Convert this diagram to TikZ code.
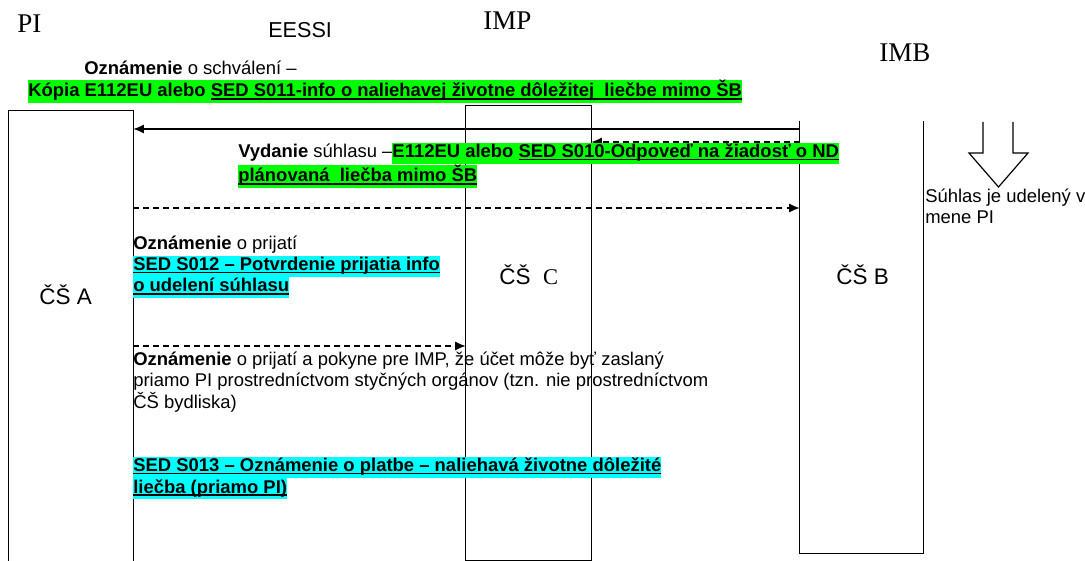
\documentclass[tikz,border=0pt]{standalone}
\usepackage{fontspec}
\setmainfont{Liberation Sans}
\newfontfamily\timesfont{Liberation Serif}
\usetikzlibrary{positioning,fit,arrows.meta}
\definecolor{hlgreen}{RGB}{0,255,0}
\definecolor{hlcyan}{RGB}{0,255,255}
\newcommand\hlg[1]{{\fboxsep=0pt\colorbox{hlgreen}{\strut#1}}}
\newcommand\hlc[1]{{\fboxsep=0pt\colorbox{hlcyan}{\strut#1}}}
\newcommand\ul[1]{\setbox0\hbox{#1}\rlap{\rule[-1.7pt]{\wd0}{0.9pt}}\box0}
\tikzset{
    lanebox/.style={inner sep=0pt, draw=none},
    lane/.style={line width=0.9pt},
    msg/.style={-{Latex[length=7pt,width=6pt]}, line width=0.8pt},
    reply/.style={msg, dash pattern=on 4pt off 2.7pt},
    % base of a multi-line text is its last line
    txt/.style={anchor=base west, inner sep=0pt, align=left, font=\fontsize{12.3}{14.3}\selectfont},
    lanelabel/.style={anchor=base west, inner sep=0pt, font=\fontsize{15}{17}\selectfont},
    party/.style={anchor=base west, inner sep=0pt, font=\timesfont\fontsize{18}{20}\selectfont},
}
\begin{document}
\begin{tikzpicture}
        [x=0.6667pt, y=-0.6667pt]
        \useasboundingbox (0,0) rectangle (1085,561);

        % Parties on top
        \node[party] (pi) at (17,33) {PI};
        \node[anchor=base west, inner sep=0pt, font=\fontsize{14.4}{16}\selectfont] (eessi) at (268,38) {EESSI};
        \node[party] (imp) at (483,30) {IMP};
        \node[party] (imb) at (879,62) {IMB};

        % Lanes of the states
        \node[lanebox, fit={(9,111) (133,561)}] (csA) {};
        \node[lanebox, fit={(466,106) (591,560)}] (csC) {};
        \node[lanebox, fit={(800,121) (923,553)}] (csB) {};
        \draw[lane] (csA.south west) -- (csA.north west) -- (csA.north east) -- (csA.south east);
        \draw[lane] (csC.north west) rectangle (csC.south east);
        \draw[lane] (csB.north west) -- (csB.south west) -- (csB.south east) -- (csB.north east);

        \node[lanelabel] (labA) at (39,305) {ČŠ A};
        \node[lanelabel] (labC) at (499,285) {ČŠ\ \ {\timesfont C}};
        \node[lanelabel] (labB) at (836,285) {ČŠ B};

        % Message levels
        \coordinate (m1) at (0,129);
        \coordinate (m2) at (0,142);
        \coordinate (m3) at (0,208);
        \coordinate (m4) at (0,346);

        % Arrows between the states
        \draw[msg] (csB.west |- m1) -- (csA.east |- m1);
        \draw[reply] (csB.west |- m2) -- (csC.east |- m2);
        \draw[reply] (csA.east |- m3) -- (csB.west |- m3);
        \draw[reply] (csA.east |- m4) -- (csC.west |- m4);

        % Consent given on behalf of PI
        \draw[line width=0.8pt] (983,122) -- (983,153) -- (969,153) -- (998.5,187) -- (1028,153) -- (1013,153) -- (1013,122);
        \node[txt] (consent) at (925,224) {Súhlas je udelený v\\mene PI};

        % Message texts
        \node[txt] (approv) at (84,75) {\textbf{Oznámenie} o schválení –};
        \node[txt] (copy) at (28,97) {\hlg{\textbf{Kópia E112EU alebo \ul{SED S011-info o naliehavej životne dôležitej\ \ liečbe mimo ŠB}}}};
        \node[txt] (issue) at (238,182) {\textbf{Vydanie} súhlasu –\hlg{\textbf{E112EU alebo \ul{SED S010-Odpoveď na žiadosť o ND}}}\\
            \hlg{\textbf{\ul{plánovaná\ \ liečba mimo ŠB}}}};
        \node[txt] (recv) at (133,292) {\textbf{Oznámenie} o prijatí\\
            \hlc{\textbf{\ul{SED S012 – Potvrdenie prijatia info}}}\\
            \hlc{\textbf{\ul{o udelení súhlasu}}}};
        \node[txt] (instr) at (133,408) {\textbf{Oznámenie} o prijatí a pokyne pre IMP, že účet môže byť zaslaný\\
            priamo PI prostredníctvom styčných orgánov (tzn. nie prostredníctvom\\
            ČŠ bydliska)};
        \node[txt] (pay) at (133,493) {\hlc{\textbf{\ul{SED S013 – Oznámenie o platbe – naliehavá životne dôležité}}}\\
            \hlc{\textbf{\ul{liečba (priamo PI)}}}};
    \end{tikzpicture}
\end{document}
